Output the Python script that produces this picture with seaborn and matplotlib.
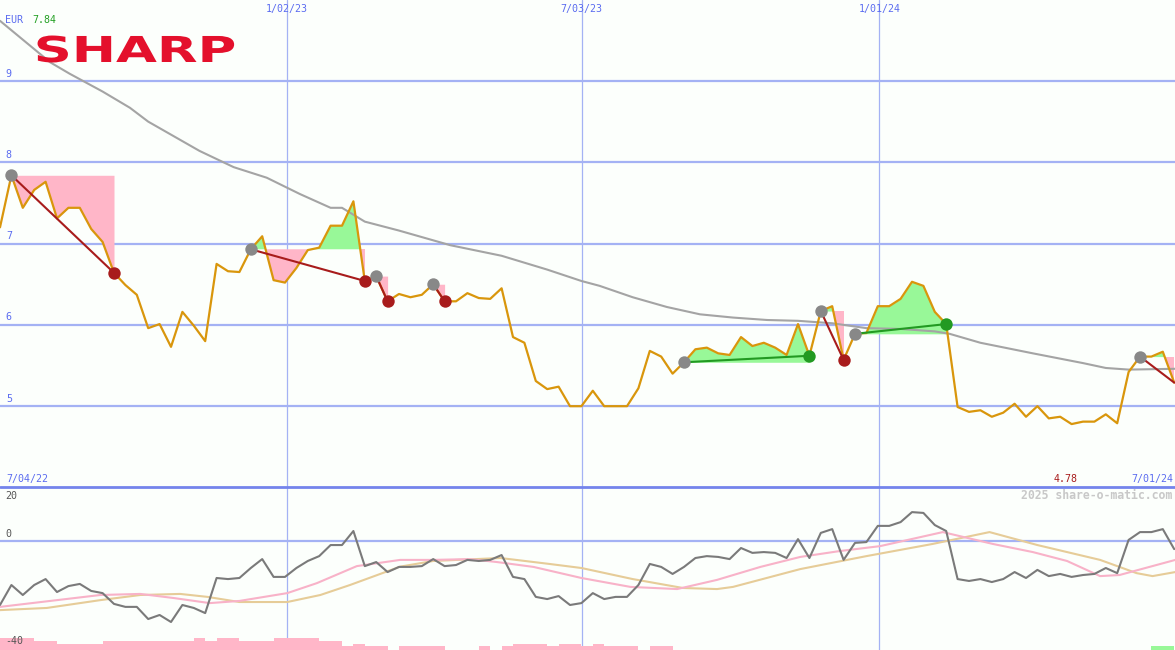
import matplotlib
matplotlib.use("Agg")
import numpy as np
import matplotlib.pyplot as plt
import seaborn as sns
from matplotlib.patheffects import AbstractPathEffect
from matplotlib.transforms import Affine2D

# weekly closes in EUR, week 0 = 7/04/22 ... week 103 = 7/01/24
price = [7.20, 7.84, 7.44, 7.66, 7.76, 7.31, 7.44, 7.44, 7.18, 7.02,
         6.64, 6.49, 6.37, 5.96, 6.01, 5.73, 6.16, 5.99, 5.80, 6.75,
         6.66, 6.65, 6.93, 7.09, 6.55, 6.52, 6.70, 6.92, 6.95, 7.22,
         7.22, 7.52, 6.54, 6.60, 6.29, 6.38, 6.34, 6.37, 6.50, 6.29,
         6.29, 6.39, 6.33, 6.32, 6.45, 5.85, 5.78, 5.31, 5.21, 5.24,
         5.00, 5.00, 5.19, 5.00, 5.00, 5.00, 5.22, 5.68, 5.61, 5.40,
         5.54, 5.70, 5.72, 5.65, 5.63, 5.85, 5.74, 5.78, 5.72, 5.63,
         6.01, 5.62, 6.17, 6.23, 5.57, 5.89, 5.90, 6.23, 6.23, 6.32,
         6.53, 6.48, 6.16, 6.01, 4.99, 4.93, 4.95, 4.87, 4.92, 5.03,
         4.87, 5.00, 4.85, 4.87, 4.78, 4.81, 4.81, 4.90, 4.79, 5.42,
         5.61, 5.61, 5.67, 5.29]

# long moving average, read at some weeks
ma_weeks = [0, 4.4, 6.1, 9, 11.4, 13, 17.5, 20.5, 23.4, 26.3, 29, 30, 32, 35,
            39.5, 44, 48, 51, 52.6, 55.5, 58.5, 61.4, 64.3, 67.3, 70, 73,
            76, 79, 82, 83.3, 86, 90.6, 95, 97, 99, 103.1]
ma_values = [9.74, 9.23, 9.09, 8.87, 8.67, 8.50, 8.14, 7.94, 7.81, 7.61,
             7.44, 7.44, 7.27, 7.16, 6.98, 6.85, 6.68, 6.54, 6.48, 6.34,
             6.22, 6.13, 6.09, 6.06, 6.05, 6.02, 5.96, 5.95, 5.92, 5.89,
             5.78, 5.65, 5.53, 5.47, 5.45, 5.46]

# trades (week index of entry / exit), last one still open
trade_entry = [1, 22, 33, 38, 60, 72, 75, 100]
trade_exit = [10, 32, 34, 39, 71, 74, 83, 103]
trade_open = [False, False, False, False, False, False, False, True]

# lower panel
momentum = [-23.7, -16.3, -20.0, -16.3, -14.1, -18.9, -16.7, -15.9, -18.5, -19.3,
            -23.3, -24.4, -24.4, -28.9, -27.4, -30.0, -23.7, -24.8, -26.7, -13.7,
            -14.1, -13.7, -10.0, -6.7, -13.3, -13.3, -10.0, -7.4, -5.6, -1.5,
            -1.5, 3.7, -9.3, -7.8, -11.5, -9.6, -9.6, -9.3, -6.7, -9.3,
            -8.9, -7.0, -7.4, -7.0, -5.2, -13.3, -14.1, -20.7, -21.5, -20.4,
            -23.7, -23.0, -19.3, -21.5, -20.7, -20.7, -16.3, -8.5, -9.6, -12.2,
            -9.6, -6.3, -5.6, -5.9, -6.7, -2.6, -4.4, -4.1, -4.4, -6.3,
            0.7, -6.3, 3.0, 4.4, -7.0, -0.7, -0.4, 5.6, 5.6, 7.0,
            10.7, 10.4, 5.9, 3.7, -14.1, -14.8, -14.1, -15.2, -14.1, -11.5,
            -13.7, -10.7, -13.0, -12.2, -13.3, -12.6, -12.2, -10.0, -11.9, 0.4,
            3.3, 3.3, 4.4, -3.0]

fast_weeks = [0, 8.8, 12.3, 15.2, 18.4, 21, 25.2, 27.8, 31.3, 35.1, 38, 41.2,
              43.6, 46.8, 51, 55.3, 59.4, 62.9, 66.7, 70.2, 73.7, 77.2, 82.7,
              87.1, 90.6, 93.6, 96.5, 98.2, 103.1]
fast_values = [-24.4, -20.0, -19.6, -21.1, -23.0, -22.2, -19.3, -15.6, -9.3,
               -7.0, -7.0, -6.7, -7.8, -9.6, -13.7, -17.0, -17.8, -14.4, -9.6,
               -5.9, -3.7, -1.9, 3.3, -1.1, -4.1, -7.4, -13.0, -12.6, -7.0]

slow_weeks = [0, 4.1, 8.8, 12.3, 15.8, 18.2, 21, 25.2, 28.1, 30.7, 35.1, 38,
              43.9, 48.2, 51, 55.5, 59.9, 62.9, 64.3, 70.2, 76, 81.8, 86.8,
              91, 96.5, 99.7, 101.1, 103.1]
slow_values = [-25.6, -24.8, -21.9, -20.0, -19.6, -20.7, -22.6, -22.6, -20.0,
               -16.3, -9.5, -7.4, -6.3, -8.5, -10.0, -14.1, -17.4, -17.8, -17.0,
               -10.4, -5.6, -1.1, 3.3, -1.5, -7.0, -11.9, -13.0, -11.5]

bar_level = [4, 4, 4, 3, 3, 2, 2, 2, 2, 3, 3, 3, 3, 3, 3, 3, 3, 4, 3, 4,
             4, 3, 3, 3, 4, 4, 4, 4, 3, 3, 1, 2, 1, 1, 0, 1, 1, 1, 1, 0,
             0, 0, 1, 0, 1, 2, 2, 2, 1, 2, 2, 1, 2, 1, 1, 1, 0, 1, 1] + [0] * 42 + [1, 1, 0]
bar_green = [101, 102]

grid_weeks = [25.15, 51.02, 77.13]
grid_labels = ["1/02/23", "7/03/23", "1/01/24"]
price_ticks = [5, 6, 7, 8, 9]

bg = "#fcfffc"
grid_col = "#a4b2f4"
blue_txt = "#5b6cf0"
pink = "#ffb6c8"
green = "#98f898"
loss_col = "#a81c1c"
gain_col = "#229a22"


class StretchX(AbstractPathEffect):
    # widen the logo lettering around a centre (display pixels)
    def __init__(self, sx, cx):
        super().__init__()
        self.sx = sx
        self.cx = cx

    def draw_path(self, renderer, gc, tpath, affine, rgbFace=None):
        a = affine + Affine2D().translate(-self.cx, 0).scale(self.sx, 1).translate(self.cx, 0)
        renderer.draw_path(gc, tpath, a, rgbFace)


sns.set_theme(style="white")
plt.rcParams["font.family"] = ["DejaVu Sans Mono", "DejaVu Sans"]

weeks = np.arange(len(price))
p = np.array(price)

fig = plt.figure(figsize=(11.75, 6.5), dpi=100, facecolor=bg)
ax = fig.add_axes([0, 163 / 650, 1, 487 / 650])
ax2 = fig.add_axes([0, 0, 1, 163 / 650])
for a in (ax, ax2):
    a.set_facecolor(bg)
    for s in a.spines.values():
        s.set_visible(False)
    a.set_xticks([])
    a.set_yticks([])
    a.set_xlim(0, 103.07)

# ---- main panel
ax.set_ylim(4.006, 9.996)
for t in price_ticks:
    ax.axhline(t, color=grid_col, lw=1.6, zorder=1)
    ax.text(0.005, t + 0.03, str(t), transform=ax.get_yaxis_transform(),
            color=blue_txt, fontsize=7.2, va="bottom", ha="left")
for g, lab in zip(grid_weeks, grid_labels):
    ax.axvline(g, color=grid_col, lw=0.9, zorder=1)
    ax.text(g, 0.9815, lab, transform=ax.get_xaxis_transform(),
            color=blue_txt, fontsize=7.2, ha="center", va="center")

for e, x in zip(trade_entry, trade_exit):
    xs = weeks[e:x + 1]
    ys = p[e:x + 1]
    lvl = p[e]
    ax.fill_between(xs, lvl, ys, where=ys >= lvl, interpolate=True,
                    color=green, lw=0, zorder=2)
    ax.fill_between(xs, lvl, ys, where=ys <= lvl, interpolate=True,
                    color=pink, lw=0, zorder=2)

sns.lineplot(x=ma_weeks, y=ma_values, color="#a4a4a4", lw=1.5, ax=ax, zorder=3)
sns.lineplot(x=weeks, y=price, color="#d9960c", lw=1.6, ax=ax, zorder=4)

for e, x, op in zip(trade_entry, trade_exit, trade_open):
    col = gain_col if p[x] > p[e] else loss_col
    ax.plot([e, x], [p[e], p[x]], color=col, lw=1.5, zorder=5)
    if not op:
        sns.scatterplot(x=[x], y=[p[x]], color=col, s=80, linewidth=0,
                        ax=ax, zorder=6)
sns.scatterplot(x=trade_entry, y=p[trade_entry], color="#888888", s=80,
                linewidth=0, ax=ax, zorder=6)

ax.text(5 / 1175, 0.959, "EUR", transform=ax.transAxes, color=blue_txt,
        fontsize=7.2, va="center", ha="left")
ax.text(32 / 1175, 0.959, "7.84", transform=ax.transAxes, color="#23a023",
        fontsize=7.2, va="center", ha="left")
ax.text(135 / 1175, (487 - 62) / 487, "SHARP", transform=ax.transAxes,
        color="#e4102c", fontsize=25.7, fontweight="heavy", family="DejaVu Sans",
        va="baseline", ha="center", path_effects=[StretchX(1.48, 135.5)])
ax.text(6 / 1175, 0.0164, "7/04/22", transform=ax.transAxes, color=blue_txt,
        fontsize=7.2, va="center", ha="left")
ax.text(93.5, 0.0164, "4.78", transform=ax.get_xaxis_transform(),
        color=loss_col, fontsize=7.2, va="center", ha="center")
ax.text(1173 / 1175, 0.0164, "7/01/24", transform=ax.transAxes,
        color=blue_txt, fontsize=7.2, va="center", ha="right")

# ---- lower panel
ax2.set_ylim(-40.37, 20)
ax2.axhline(0, color=grid_col, lw=1.6, zorder=1)
for g in grid_weeks:
    ax2.axvline(g, color=grid_col, lw=0.9, zorder=1)

lv = np.array(bar_level, dtype=float)
cols = [green if i in bar_green else pink for i in range(len(lv))]
ax2.bar(weeks[lv > 0], lv[lv > 0] + 1.5, bottom=-41.5, width=1, align="edge",
        color=[c for c, v in zip(cols, lv) if v > 0], lw=0, zorder=2)

sns.lineplot(x=slow_weeks, y=slow_values, color="#e6cc98", lw=1.5, ax=ax2, zorder=3)
sns.lineplot(x=fast_weeks, y=fast_values, color="#f8b2c8", lw=1.5, ax=ax2, zorder=3)
sns.lineplot(x=weeks, y=momentum, color="#7a7a7a", lw=1.5, ax=ax2, zorder=4)

ax2.text(5 / 1175, 0.945, "20", transform=ax2.transAxes, color="#555555",
         fontsize=7.2, va="center", ha="left")
ax2.text(5 / 1175, 0.712, "0", transform=ax2.transAxes, color="#555555",
         fontsize=7.2, va="center", ha="left")
ax2.text(5 / 1175, 0.055, "-40", transform=ax2.transAxes, color="#555555",
         fontsize=7.2, va="center", ha="left")
ax2.text(1172 / 1175, 0.945, "2025 share-o-matic.com", transform=ax2.transAxes,
         color="#c8c8c8", fontsize=8.3, fontweight="bold", va="center", ha="right")

fig.add_artist(plt.Line2D([0, 1], [163.5 / 650] * 2, transform=fig.transFigure,
                          color="#7484ec", lw=2))

fig.savefig("out.png", dpi=100, facecolor=bg)
